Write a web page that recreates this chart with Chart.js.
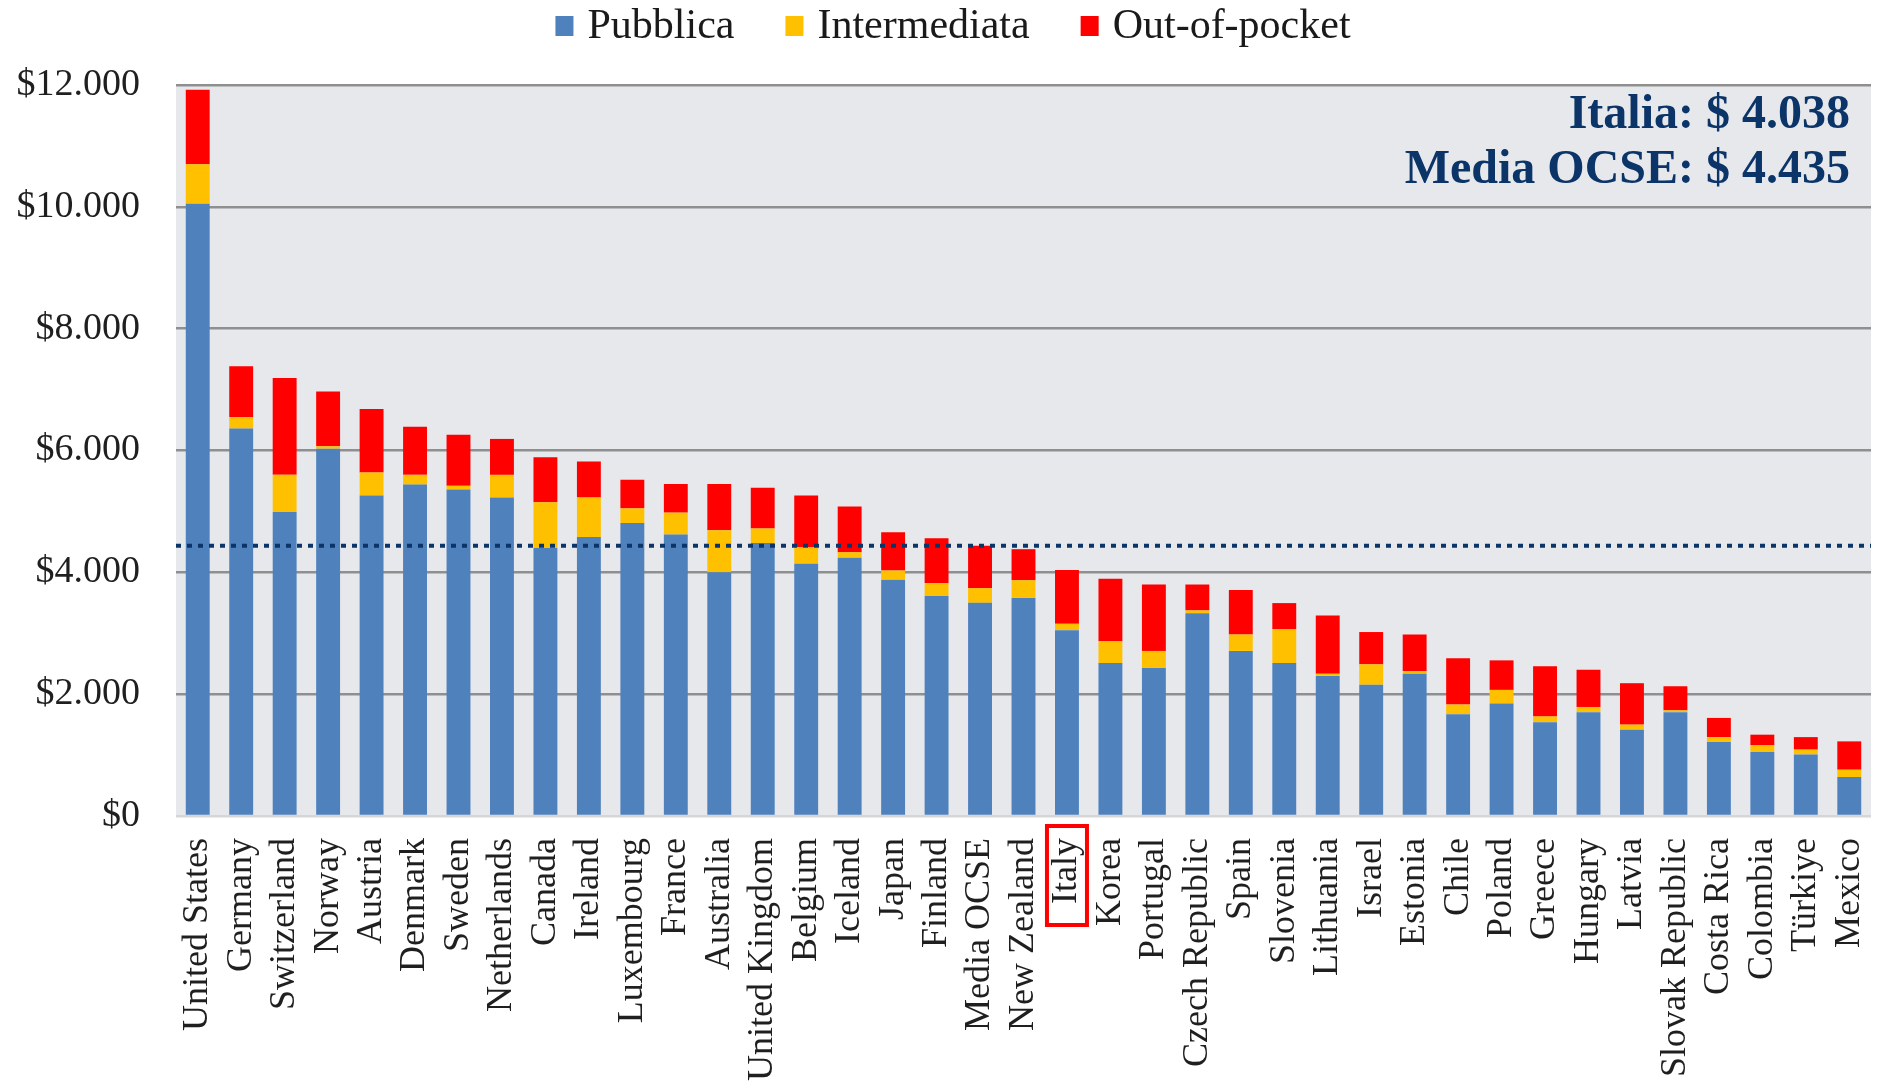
<!DOCTYPE html>
<html>
<head>
<meta charset="utf-8">
<script src="https://cdn.jsdelivr.net/npm/chart.js@4.4.1/dist/chart.umd.min.js"></script>
<style>
    html, body { margin: 0; padding: 0; background: #fff; }
</style>
</head>
<body>
<canvas id="chart" width="1877" height="1086"></canvas>
<script>

const countries = ['United States', 'Germany', 'Switzerland', 'Norway', 'Austria', 'Denmark', 'Sweden',
    'Netherlands', 'Canada', 'Ireland', 'Luxembourg', 'France', 'Australia', 'United Kingdom', 'Belgium',
    'Iceland', 'Japan', 'Finland', 'Media OCSE', 'New Zealand', 'Italy', 'Korea', 'Portugal',
    'Czech Republic', 'Spain', 'Slovenia', 'Lithuania', 'Israel', 'Estonia', 'Chile', 'Poland', 'Greece',
    'Hungary', 'Latvia', 'Slovak Republic', 'Costa Rica', 'Colombia', 'Türkiye', 'Mexico'];

const pubblica = [10050, 6360, 4990, 6030, 5260, 5440, 5360, 5230, 4400, 4580, 4810, 4620, 4000, 4480, 4140,
    4240, 3880, 3610, 3500, 3580, 3050, 2510, 2430, 3330, 2710, 2510, 2300, 2155, 2335, 1670, 1845, 1540,
    1705, 1415, 1705, 1215, 1050, 1010, 640];

const intermediata = [650, 190, 610, 40, 380, 160, 60, 370, 750, 650, 240, 360, 690, 240, 270,
    90, 150, 210, 240, 290, 105, 360, 280, 45, 270, 560, 35, 335, 40, 160, 225, 95,
    85, 85, 30, 80, 110, 80, 120];

const outOfPocket = [1220, 835, 1590, 900, 1040, 790, 840, 590, 740, 590, 470, 470, 760, 670, 850,
    750, 630, 740, 695, 510, 883, 1025, 1090, 425, 730, 425, 955, 530, 605, 760, 485, 825,
    610, 680, 395, 315, 175, 205, 465];

const seriesNames = ['Pubblica', 'Intermediata', 'Out-of-pocket'];
const seriesColors = ['#4F81BD', '#FFC000', '#FF0000'];

const yMax = 12000;
const yStep = 2000;
const mediaOcse = 4435;
const italia = 4038;
const highlighted = 'Italy';

const serif = '"Liberation Serif", "DejaVu Serif", serif';
const navy = '#0b3468';

function dots(v) {
    return String(v).replace(/\B(?=(\d{3})+(?!\d))/g, '.');
}

// grey plot background
const plotBg = {
    id: 'plotBg',
    beforeDraw(chart) {
        const { ctx, chartArea: a } = chart;
        ctx.save();
        ctx.fillStyle = '#E7E8EC';
        ctx.fillRect(a.left, a.top, a.right - a.left, a.bottom - a.top);
        ctx.restore();
    }
};

// OECD average line + the two labels in the corner
const averageLine = {
    id: 'averageLine',
    afterDatasetsDraw(chart) {
        const { ctx, chartArea: a } = chart;
        const y = chart.scales.y.getPixelForValue(mediaOcse);
        ctx.save();
        ctx.strokeStyle = navy;
        ctx.lineWidth = 4;
        ctx.setLineDash([5, 6]);
        ctx.beginPath();
        ctx.moveTo(a.left, y);
        ctx.lineTo(a.right, y);
        ctx.stroke();
        ctx.setLineDash([]);

        ctx.fillStyle = navy;
        ctx.font = 'bold 48px ' + serif;
        ctx.textAlign = 'right';
        ctx.textBaseline = 'alphabetic';
        ctx.fillText('Italia: $ ' + dots(italia), a.right - 21, a.top + 43);
        ctx.fillText('Media OCSE: $ ' + dots(mediaOcse), a.right - 21, a.top + 98);
        ctx.restore();
    }
};

// legend row at the top and red frame on the Italy label
const extras = {
    id: 'extras',
    afterDraw(chart) {
        const { ctx, chartArea: a } = chart;
        ctx.save();
        ctx.font = '42px ' + serif;
        ctx.textBaseline = 'middle';
        ctx.textAlign = 'left';
        const box = 18, gapText = 14, gapItem = 51;
        const widths = chart.data.datasets.map(d => ctx.measureText(d.label).width);
        let total = 0;
        widths.forEach((w, i) => { total += box + gapText + w + (i > 0 ? gapItem : 0); });
        let x = 953 - total / 2;
        chart.data.datasets.forEach((d, i) => {
            ctx.fillStyle = d.backgroundColor;
            ctx.fillRect(x, 16, box, 20);
            ctx.fillStyle = '#1a1a1a';
            ctx.fillText(d.label, x + box + gapText, 27);
            x += box + gapText + widths[i] + gapItem;
        });

        const idx = countries.indexOf(highlighted);
        const cx = chart.scales.x.getPixelForValue(idx);
        ctx.strokeStyle = '#FF0000';
        ctx.lineWidth = 4;
        ctx.strokeRect(cx - 20, a.bottom + 10, 40, 99);
        ctx.restore();
    }
};

const ctx = document.getElementById('chart').getContext('2d');

new Chart(ctx, {
    type: 'bar',
    data: {
        labels: countries,
        datasets: [
            { label: seriesNames[0], data: pubblica, backgroundColor: seriesColors[0] },
            { label: seriesNames[1], data: intermediata, backgroundColor: seriesColors[1] },
            { label: seriesNames[2], data: outOfPocket, backgroundColor: seriesColors[2] }
        ]
    },
    options: {
        responsive: false,
        animation: false,
        devicePixelRatio: 1,
        layout: { padding: { top: 85, right: 6, bottom: 0, left: 0 } },
        datasets: {
            bar: { categoryPercentage: 1, barPercentage: 0.55, borderWidth: 0 }
        },
        scales: {
            x: {
                stacked: true,
                grid: { display: false, drawTicks: false },
                border: { display: false },
                ticks: {
                    autoSkip: false,
                    minRotation: 90,
                    maxRotation: 90,
                    padding: 22,
                    color: '#1f1f1f',
                    font: { family: serif, size: 36 }
                },
                afterFit: s => {
                    s.height = 270;
                    s.paddingLeft = 0;
                    s.paddingRight = 0;
                }
            },
            y: {
                stacked: true,
                min: 0,
                max: yMax,
                grid: {
                    color: c => c.tick.value === 0 ? '#d6d6d6' : '#8f8f8f',
                    lineWidth: 2.5,
                    drawTicks: false
                },
                border: { display: false },
                ticks: {
                    stepSize: yStep,
                    padding: 36,
                    color: '#1f1f1f',
                    font: { family: serif, size: 38 },
                    callback: v => '$' + dots(v)
                },
                afterFit: s => { s.width = 176; }
            }
        },
        plugins: {
            legend: { display: false },
            tooltip: { enabled: false }
        }
    },
    plugins: [plotBg, averageLine, extras]
});
</script>
</body>
</html>
